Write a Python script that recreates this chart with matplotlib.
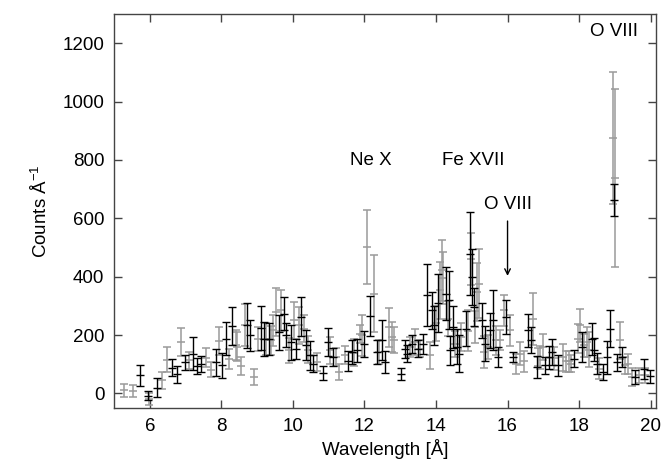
import matplotlib
matplotlib.use("Agg")
import matplotlib.pyplot as plt

plt.rcParams['font.family'] = ['Liberation Sans', 'DejaVu Sans']
plt.rcParams['mathtext.fontset'] = 'custom'
plt.rcParams['mathtext.rm'] = 'Liberation Sans'
plt.rcParams['mathtext.it'] = 'Liberation Sans'

# Black series (wavelength, counts, error)
black_wl = [5.73, 5.96, 6.19, 6.62, 6.77, 6.98, 7.20, 7.31, 7.44, 7.84, 8.02, 8.12, 8.30, 8.73, 8.79,
            9.11, 9.19, 9.34, 9.60, 9.74, 9.80, 9.96, 10.09, 10.24, 10.37, 10.47, 10.56, 10.84, 10.97,
            11.13, 11.55, 11.64, 11.78, 12.00, 12.15, 12.34, 12.50, 12.58, 13.01, 13.13, 13.20, 13.33,
            13.50, 13.65, 13.76, 13.89, 13.95, 14.06, 14.27, 14.37, 14.40, 14.47, 14.58, 14.64, 14.83,
            14.96, 15.01, 15.06, 15.28, 15.38, 15.51, 15.60, 15.74, 15.97, 16.15, 16.58, 16.65, 16.81,
            17.05, 17.17, 17.24, 17.42, 17.85, 18.08, 18.36, 18.41, 18.49, 18.68, 18.79, 18.87, 18.97,
            19.05, 19.21, 19.57, 19.81, 19.97]
black_val = [62, -8, 20, 88, 65, 107, 136, 93, 100, 107, 96, 187, 230, 233, 199,
             225, 187, 187, 210, 273, 200, 176, 153, 262, 165, 130, 102, 70, 176,
             124, 111, 142, 147, 170, 265, 142, 182, 107, 67, 153, 136, 170,
             153, 170, 336, 285, 233, 310, 342, 320, 147, 227, 159, 136, 222,
             479, 399, 296, 250, 170, 216, 250, 124, 262, 124, 216, 182, 90,
             96, 124, 142, 96, 119, 159, 187, 150, 102, 73, 124, 222, 662,
             107, 124, 56, 85, 58]
black_err = [36, 16, 32, 30, 30, 26, 57, 28, 28, 46, 44, 56, 65, 77, 53,
             75, 58, 55, 60, 56, 40, 60, 34, 67, 52, 50, 30, 23, 49,
             31, 33, 42, 40, 45, 70, 40, 69, 38, 20, 31, 30, 30,
             30, 35, 106, 64, 66, 100, 91, 100, 51, 71, 60, 63, 60,
             143, 97, 64, 60, 60, 60, 103, 35, 57, 17, 57, 45, 37,
             30, 40, 46, 35, 30, 51, 54, 40, 37, 27, 57, 63, 55,
             29, 35, 25, 34, 22]

# Gray series (wavelength, counts, error)
gray_wl = [5.29, 5.53, 5.98, 6.35, 6.49, 6.88, 7.09, 7.57, 7.70, 7.93, 8.21, 8.40, 8.45, 8.56, 8.67,
           8.91, 9.03, 9.26, 9.40, 9.45, 9.52, 9.68, 9.89, 10.02, 10.17, 10.32, 10.42, 10.67, 11.04,
           11.21, 11.30, 11.45, 11.71, 11.87, 11.93, 12.06, 12.27, 12.41, 12.69, 12.78, 12.83, 13.26,
           13.42, 13.56, 13.82, 14.00, 14.12, 14.17, 14.21, 14.33, 14.53, 14.71, 14.90, 14.99, 15.10,
           15.15, 15.21, 15.33, 15.45, 15.67, 15.79, 15.90, 16.06, 16.25, 16.36, 16.46, 16.71, 16.86,
           16.91, 16.98, 17.31, 17.54, 17.63, 17.72, 17.76, 17.96, 18.02, 18.15, 18.22, 18.29, 18.55,
           18.94, 18.99, 19.14, 19.27, 19.36, 19.49, 19.67, 19.85]
gray_val = [10, 8, -20, 45, 115, 176, 113, 122, 81, 179, 119, 165, 160, 93, 233,
            56, 187, 187, 182, 216, 279, 285, 147, 250, 233, 222, 150, 107, 147,
            124, 73, 132, 140, 204, 199, 502, 342, 142, 227, 193, 182, 159,
            176, 153, 130, 240, 353, 422, 395, 256, 170, 193, 215, 460, 227,
            347, 376, 142, 159, 182, 182, 285, 216, 102, 136, 110, 256, 124,
            124, 159, 120, 124, 110, 110, 102, 187, 233, 165, 176, 150, 85,
            875, 737, 182, 96, 102, 56, 62, 62]
gray_err = [22, 20, 20, 29, 43, 48, 29, 33, 25, 49, 34, 51, 50, 31, 72,
            27, 41, 55, 50, 53, 83, 70, 43, 63, 63, 45, 45, 31, 45,
            30, 27, 31, 45, 30, 71, 128, 131, 40, 67, 51, 45, 34,
            43, 30, 46, 60, 97, 104, 90, 60, 45, 49, 71, 90, 55,
            100, 119, 54, 40, 50, 35, 53, 54, 34, 40, 35, 89, 30,
            40, 43, 40, 46, 35, 35, 30, 50, 57, 40, 50, 60, 35,
            225, 305, 63, 30, 34, 31, 25, 25]

x_ticks = [6, 8, 10, 12, 14, 16, 18, 20]
y_ticks = [0, 200, 400, 600, 800, 1000, 1200]

fig = plt.figure(figsize=(6.65, 4.66), dpi=100)
ax = fig.add_axes([0.1714, 0.1245, 0.8151, 0.8455])

gray_c = '#9a9a9a'
ax.errorbar(gray_wl, gray_val, yerr=gray_err, fmt='_', color=gray_c, ecolor=gray_c,
            elinewidth=1.1, capsize=3, capthick=1.1, markersize=6, markeredgewidth=1.1, zorder=2)
ax.errorbar(black_wl, black_val, yerr=black_err, fmt='_', color='black', ecolor='black',
            elinewidth=1.0, capsize=3, capthick=1.0, markersize=6, markeredgewidth=1.0, zorder=3)

ax.set_xlim(5.0, 20.15)
ax.set_ylim(-50, 1300)
ax.set_xticks(x_ticks)
ax.set_yticks(y_ticks)
ax.tick_params(direction='in', length=6, width=1, top=True, right=True,
               labelsize=13.5, pad=7, color='#444444')
for s in ax.spines.values():
    s.set_linewidth(1.0)
    s.set_color('#444444')

fs = 13.5
ax.set_xlabel('Wavelength [Å]', fontsize=fs, labelpad=3)
ax.set_ylabel('Counts Å$^{-1}$', fontsize=fs, labelpad=8)

ax.text(12.17, 797, 'Ne X', fontsize=fs, ha='center', va='center')
ax.text(15.05, 797, 'Fe XVII', fontsize=fs, ha='center', va='center')
ax.text(16.02, 646, 'O VIII', fontsize=fs, ha='center', va='center')
ax.annotate('', xy=(16.0, 393), xytext=(16.0, 600),
            arrowprops=dict(arrowstyle='->', color='black', lw=1.0))
ax.text(18.97, 1240, 'O VIII', fontsize=fs, ha='center', va='center')

fig.savefig('out.png', dpi=100)
